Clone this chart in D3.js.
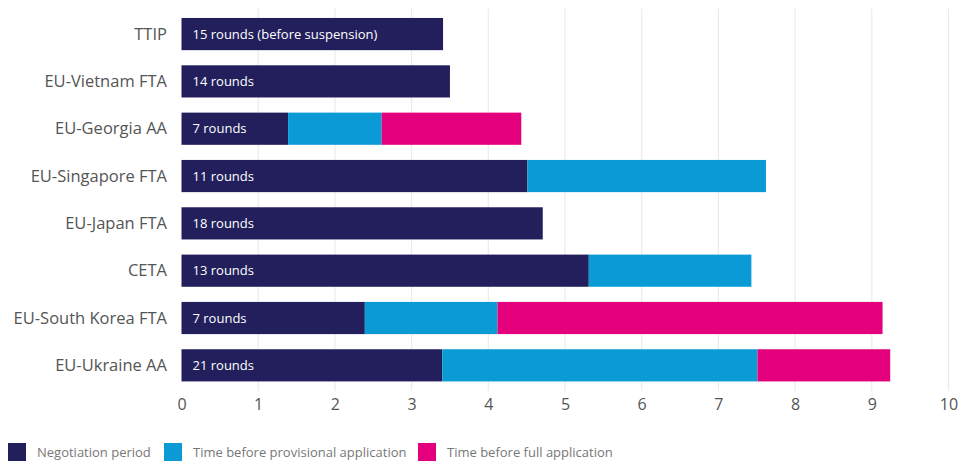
<!DOCTYPE html>
<html>
<head>
<meta charset="utf-8">
<script src="https://cdn.jsdelivr.net/npm/d3@7"></script>
<style>
  body { margin: 0; background: #fff; }
  svg { display: block; font-family: "Open Sans", sans-serif; }
</style>
</head>
<body>
<svg id="chart" width="960" height="464"></svg>
<script>
// data (years)
const categories = ['TTIP', 'EU-Vietnam FTA', 'EU-Georgia AA', 'EU-Singapore FTA',
  'EU-Japan FTA', 'CETA', 'EU-South Korea FTA', 'EU-Ukraine AA'];
const negotiation = [3.41, 3.50, 1.39, 4.51, 4.71, 5.31, 2.39, 3.40];
const provisional = [0, 0, 1.22, 3.11, 0, 2.12, 1.73, 4.11];
const full = [0, 0, 1.82, 0, 0, 0, 5.02, 1.73];
const rounds = ['15 rounds (before suspension)', '14 rounds', '7 rounds', '11 rounds',
  '18 rounds', '13 rounds', '7 rounds', '21 rounds'];
const seriesNames = ['Negotiation period', 'Time before provisional application', 'Time before full application'];
const xTicks = [0, 1, 2, 3, 4, 5, 6, 7, 8, 9, 10];

const colors = ['#231f5c', '#0a9bd7', '#e4007c'];
const keys = ['neg', 'prov', 'full'];

const rows = categories.map((c, i) => ({
  name: c, neg: negotiation[i], prov: provisional[i], full: full[i], label: rounds[i]
}));

const svg = d3.select('#chart');
const margin = { top: 10.4, bottom: 75, left: 181.5, right: 12 };
const width = 960, height = 464;

const x = d3.scaleLinear().domain([0, 10]).range([margin.left, 948.5]);
const y = d3.scaleBand().domain(categories)
  .range([margin.top, height - margin.bottom])
  .paddingInner(0.32).paddingOuter(0.16);

// vertical grid
svg.append('g')
  .selectAll('line')
  .data(xTicks.slice(1))
  .enter()
  .append('line')
  .attr('x1', d => x(d)).attr('x2', d => x(d))
  .attr('y1', margin.top - 2).attr('y2', height - margin.bottom + 2)
  .attr('stroke', '#ebebeb').attr('stroke-width', 1.2);

// x axis labels
const xAxis = svg.append('g')
  .attr('transform', 'translate(0,' + (height - margin.bottom) + ')')
  .call(d3.axisBottom(x).tickValues(xTicks).tickSize(0).tickPadding(10).tickFormat(d3.format('d')));
xAxis.select('.domain').remove();
xAxis.selectAll('text').attr('font-size', 16).attr('fill', '#555').style('font-family', '"Open Sans", sans-serif');

// category labels
svg.append('g')
  .selectAll('text')
  .data(categories)
  .enter()
  .append('text')
  .attr('x', 167)
  .attr('y', d => y(d) + y.bandwidth() / 2)
  .attr('dy', '0.35em')
  .attr('text-anchor', 'end')
  .attr('font-size', 16.5)
  .attr('fill', '#555')
  .text(d => d);

// stacked bars
const stacked = d3.stack().keys(keys)(rows);
svg.append('g')
  .selectAll('g')
  .data(stacked)
  .enter()
  .append('g')
  .attr('fill', (d, i) => colors[i])
  .selectAll('rect')
  .data(d => d.filter(s => s[1] > s[0]))
  .enter()
  .append('rect')
  .attr('x', d => x(d[0]))
  .attr('y', d => y(d.data.name))
  .attr('width', d => x(d[1]) - x(d[0]))
  .attr('height', y.bandwidth());

// round labels inside bars
svg.append('g')
  .selectAll('text')
  .data(rows)
  .enter()
  .append('text')
  .attr('x', x(0) + 11)
  .attr('y', d => y(d.name) + y.bandwidth() / 2)
  .attr('dy', '0.35em')
  .attr('font-size', 13)
  .attr('fill', '#fff')
  .text(d => d.label);

// legend
const legendX = [8, 164, 418];
const legend = svg.append('g')
  .selectAll('g')
  .data(seriesNames)
  .enter()
  .append('g')
  .attr('transform', (d, i) => 'translate(' + legendX[i] + ',443)');
legend.append('rect')
  .attr('width', 18).attr('height', 18)
  .attr('fill', (d, i) => colors[i]);
legend.append('text')
  .attr('x', 29).attr('y', 9).attr('dy', '0.35em')
  .attr('font-size', 13)
  .attr('fill', '#777')
  .text(d => d);
</script>
</body>
</html>
